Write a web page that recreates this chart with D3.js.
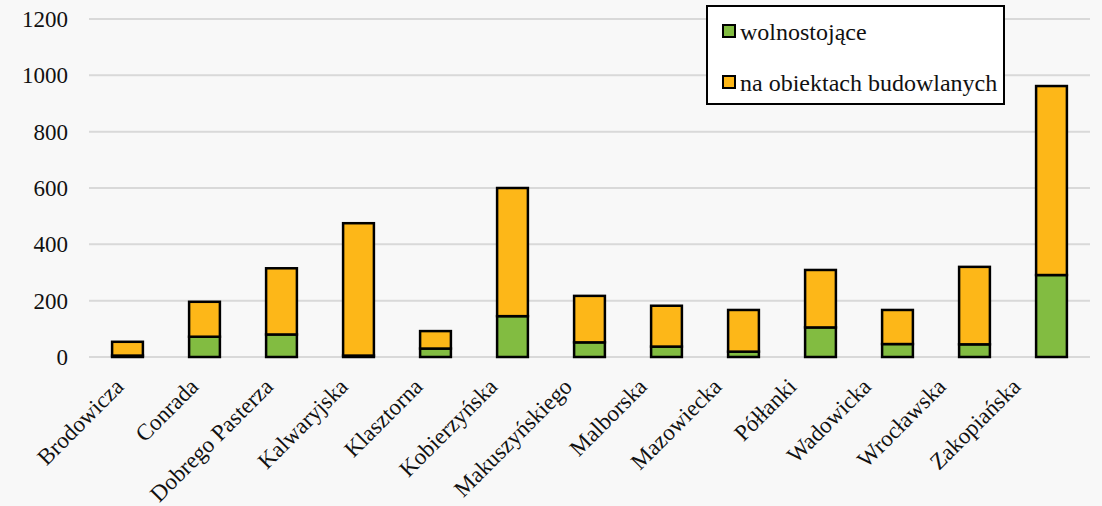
<!DOCTYPE html>
<html>
<head>
<meta charset="utf-8">
<script src="https://cdn.jsdelivr.net/npm/d3@7"></script>
<style>
  html, body { margin: 0; padding: 0; background: #f8f8f8; }
  svg { display: block; }
  svg text { font-family: "Liberation Serif", "Times New Roman", serif; }
</style>
</head>
<body>
<svg id="chart" width="1102" height="506"></svg>
<script>
// Streets and counts per installation type
const categories = ["Brodowicza", "Conrada", "Dobrego Pasterza", "Kalwaryjska", "Klasztorna",
  "Kobierzyńska", "Makuszyńskiego", "Malborska", "Mazowiecka", "Półłanki",
  "Wadowicka", "Wrocławska", "Zakopiańska"];
const wolnostojace = [5, 72, 80, 5, 30, 145, 52, 37, 19, 105, 46, 45, 291];
const naObiektach = [49, 124, 235, 470, 62, 455, 165, 145, 148, 204, 121, 275, 671];
const seriesNames = ["wolnostojące", "na obiektach budowlanych"];
const seriesColors = ["#82bc41", "#fdb718"];
const yTicks = [0, 200, 400, 600, 800, 1000, 1200];

const svg = d3.select("#chart");
const plot = { left: 89, right: 1090, top: 19, bottom: 357 };
const serif = "'Liberation Serif', 'Times New Roman', serif";

const x = d3.scaleBand().domain(categories).range([plot.left, plot.right]).paddingInner(0.6).paddingOuter(0.3);
const y = d3.scaleLinear().domain([0, 1200]).range([plot.bottom, plot.top]);
// rotated category labels sit on their own slightly tighter spacing
const xLabel = d3.scalePoint().domain(categories).range([125, 1022]);

// horizontal gridlines
svg.append("g")
  .selectAll("line")
  .data(yTicks)
  .join("line")
  .attr("x1", plot.left).attr("x2", plot.right)
  .attr("y1", d => y(d)).attr("y2", d => y(d))
  .attr("stroke", "#d9d9d9").attr("stroke-width", 2);

// y axis labels
const yAxis = d3.axisLeft(y).tickValues(yTicks).tickSize(0).tickPadding(0).tickFormat(d3.format("d"));
svg.append("g")
  .attr("transform", `translate(68,0)`)
  .call(yAxis)
  .call(g => g.select(".domain").remove())
  .call(g => g.attr("font-family", null).attr("font-size", null))
  .call(g => g.selectAll("text")
    .style("font-family", serif)
    .style("font-size", "23px")
    .attr("fill", "#111")
    .attr("dy", "0.33em"));

// stacked bars
const rows = categories.map((c, i) => ({ cat: c, [seriesNames[0]]: wolnostojace[i], [seriesNames[1]]: naObiektach[i] }));
const stack = d3.stack().keys(seriesNames)(rows);

svg.append("g")
  .selectAll("g")
  .data(stack)
  .join("g")
  .attr("fill", (d, i) => seriesColors[i])
  .selectAll("rect")
  .data(d => d)
  .join("rect")
  .attr("x", d => x(d.data.cat))
  .attr("width", x.bandwidth())
  .attr("y", d => y(d[1]))
  .attr("height", d => y(d[0]) - y(d[1]))
  .attr("stroke", "#000")
  .attr("stroke-width", 2.5);

// category labels
svg.append("g")
  .selectAll("text")
  .data(categories)
  .join("text")
  .attr("transform", d => `translate(${xLabel(d)},388) rotate(-45)`)
  .attr("text-anchor", "end")
  .style("font-family", serif)
  .style("font-size", "23px")
  .attr("fill", "#111")
  .text(d => d);

// legend
const legend = svg.append("g");
legend.append("rect")
  .attr("x", 707).attr("y", 6).attr("width", 297).attr("height", 98)
  .attr("fill", "#fff").attr("stroke", "#000").attr("stroke-width", 2);
const items = legend.selectAll("g.item")
  .data(seriesNames)
  .join("g")
  .attr("class", "item")
  .attr("transform", (d, i) => `translate(0,${i * 51})`);
items.append("rect")
  .attr("x", 723).attr("y", 25).attr("width", 12).attr("height", 12)
  .attr("fill", (d, i) => seriesColors[i])
  .attr("stroke", "#000").attr("stroke-width", 2);
items.append("text")
  .attr("x", 740).attr("y", 40)
  .style("font-family", serif)
  .style("font-size", "24px")
  .attr("fill", "#111")
  .text(d => d);
</script>
</body>
</html>
